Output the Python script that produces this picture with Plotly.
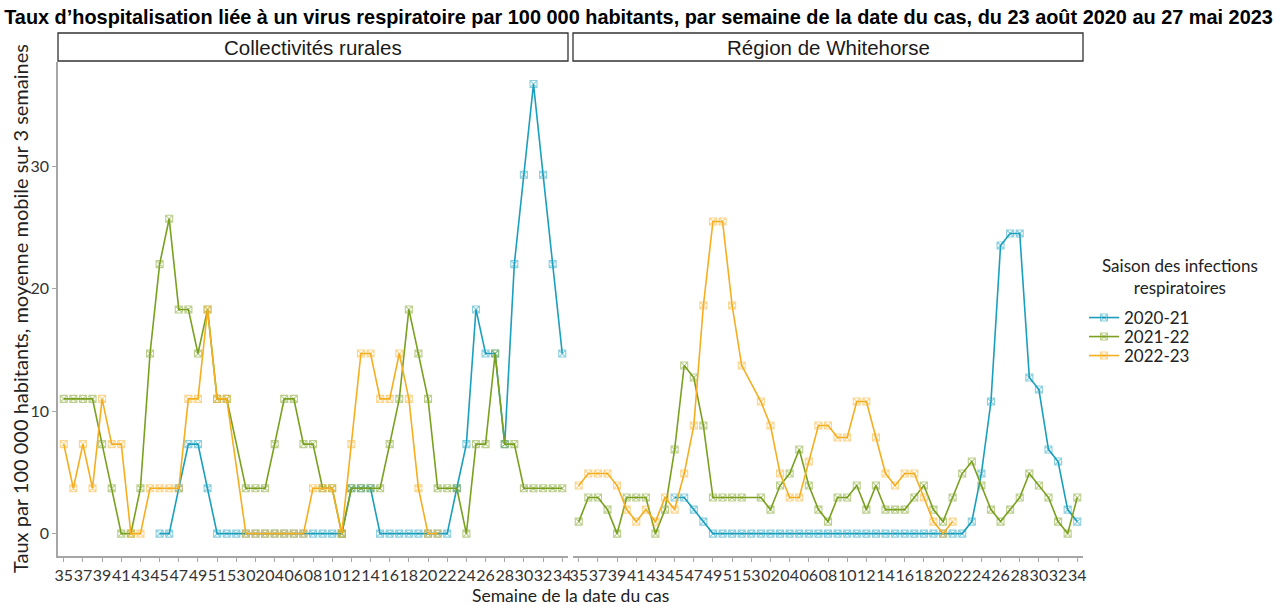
import plotly.graph_objects as go

# ---------------- data ----------------
weeks = ["35", "36", "37", "38", "39", "40", "41", "42", "43", "44", "45", "46", "47", "48",
         "49", "50", "51", "52", "53", "01", "02", "03", "04", "05", "06", "07", "08", "09",
         "10", "11", "12", "13", "14", "15", "16", "17", "18", "19", "20", "21", "22", "23",
         "24", "25", "26", "27", "28", "29", "30", "31", "32", "33", "34"]
tick_weeks = weeks[::2]

seasons = ["2020-21", "2021-22", "2022-23"]
colors = {"2020-21": "#1A9FBE", "2021-22": "#79A01E", "2022-23": "#F5AE1F"}
panels = ["Collectivités rurales", "Région de Whitehorse"]

N = None
# Collectivités rurales
rural_2020_21 = [N, N, N, N, N, N, N, N, N, N,
                 0, 0, 3.7, 7.3, 7.3, 3.7, 0, 0, 0, 0, 0, 0, 0, 0, 0, 0, 0, 0, 0, 0,
                 3.7, 3.7, 3.7, 0, 0, 0, 0, 0, 0, 0, 0,
                 3.7, 7.3, 18.3, 14.7, 14.7, 7.3, 22, 29.3, 36.7, 29.3, 22, 14.7]
rural_2021_22 = [11, 11, 11, 11, 7.3, 3.7, 0, 0, 3.7, 14.7, 22, 25.7, 18.3, 18.3, 14.7, 18.3,
                 11, 11, N, 3.7, 3.7, 3.7, 7.3, 11, 11, 7.3, 7.3, 3.7, 3.7, 0,
                 3.7, 3.7, 3.7, 3.7, 7.3, 11, 18.3, 14.7, 11, 3.7, 3.7, 3.7, 0,
                 7.3, 7.3, 14.7, 7.3, 7.3, 3.7, 3.7, 3.7, 3.7, 3.7]
rural_2022_23 = [7.3, 3.7, 7.3, 3.7, 11, 7.3, 7.3, 0, 0, 3.7, 3.7, 3.7, 3.7, 11, 11, 18.3,
                 11, 11, N, 0, 0, 0, 0, 0, 0, 0, 3.7, 3.7, 3.7, 0,
                 7.3, 14.7, 14.7, 11, 11, 14.7, 11, 3.7, 0, 0,
                 N, N, N, N, N, N, N, N, N, N, N, N, N]
# Région de Whitehorse
whse_2020_21 = [N, N, N, N, N, N, N, N, N, N,
                2.94, 2.94, 1.96, 0.98, 0, 0, 0, 0, 0, 0, 0, 0, 0, 0, 0, 0, 0, 0, 0, 0,
                0, 0, 0, 0, 0, 0, 0, 0, 0, 0, 0,
                0.98, 4.9, 10.78, 23.52, 24.5, 24.5, 12.74, 11.76, 6.86, 5.88, 1.96, 0.98]
whse_2021_22 = [0.98, 2.94, 2.94, 1.96, 0, 2.94, 2.94, 2.94, 0, 1.96, 6.86, 13.72, 12.74,
                8.82, 2.94, 2.94, 2.94, 2.94, N, 2.94, 1.96, 3.92, 4.9, 6.86, 3.92, 1.96,
                0.98, 2.94, 2.94, 3.92, 1.96, 3.92, 1.96, 1.96, 1.96, 2.94, 3.92, 1.96,
                0.98, 2.94, 4.9, 5.88, 3.92, 1.96, 0.98, 1.96, 2.94, 4.9, 3.92, 2.94,
                0.98, 0, 2.94]
whse_2022_23 = [3.92, 4.9, 4.9, 4.9, 3.92, 1.96, 0.98, 1.96, 0.98, 2.94, 1.96, 4.9, 8.82,
                18.62, 25.48, 25.48, 18.62, 13.72, N, 10.78, 8.82, 4.9, 2.94, 2.94, 5.88,
                8.82, 8.82, 7.84, 7.84, 10.78, 10.78, 7.84, 4.9, 3.92, 4.9, 4.9, 2.94,
                0.98, 0, 0.98,
                N, N, N, N, N, N, N, N, N, N, N, N, N]

panel_data = {
    "Collectivités rurales": {"2020-21": rural_2020_21, "2021-22": rural_2021_22, "2022-23": rural_2022_23},
    "Région de Whitehorse": {"2020-21": whse_2020_21, "2021-22": whse_2021_22, "2022-23": whse_2022_23},
}

title_text = ("Taux d’hospitalisation liée à un virus respiratoire par 100 000 habitants, "
              "par semaine de la date du cas, du 23 août 2020 au 27 mai 2023")
x_title = "Semaine de la date du cas"
y_title = "Taux par 100 000 habitants, moyenne mobile sur 3 semaines"
legend_title = "Saison des infections<br>respiratoires"

# ---------------- layout geometry (pixels) ----------------
W, H = 1277, 605
ML, MR, MT, MB = 58, 194, 62, 49
plot_w = W - ML - MR
plot_h = H - MT - MB
panel_gap = 5
panel_w = (plot_w - panel_gap) / 2
dom1 = [0, panel_w / plot_w]
dom2 = [(panel_w + panel_gap) / plot_w, 1]

def px_x(px):
    return (px - ML) / plot_w

def px_y(py):
    return (H - MB - py) / plot_h

def hex_rgba(h, a):
    h = h.lstrip("#")
    return f"rgba({int(h[0:2],16)},{int(h[2:4],16)},{int(h[4:6],16)},{a})"

font_main = "Lato, 'Open Sans', sans-serif"
legend_names = ["legend", "legend2", "legend3"]
legend_y_px = [318, 337, 356]

fig = go.Figure()
for pi, panel in enumerate(panels):
    xa = "x" if pi == 0 else "x2"
    ya = "y" if pi == 0 else "y2"
    for si, s in enumerate(seasons):
        fig.add_trace(go.Scatter(
            x=weeks, y=panel_data[panel][s], xaxis=xa, yaxis=ya,
            mode="lines+markers", name=s, legendgroup=s, showlegend=(pi == 0),
            legend=legend_names[si],
            connectgaps=True,
            line=dict(color=colors[s], width=1.6),
            marker=dict(symbol="square-x-open", size=7, color=hex_rgba(colors[s], 0.5),
                        line=dict(width=1.1)),
        ))

axis_common = dict(
    type="category", categoryorder="array", categoryarray=weeks,
    tickmode="array", tickvals=tick_weeks, ticktext=tick_weeks,
    range=[-0.6, len(weeks) - 0.4],
    showgrid=False, zeroline=False, automargin=False,
    showline=True, linecolor="#A6A6A6", linewidth=1.5,
    ticks="outside", ticklen=4, tickcolor="#A6A6A6", tickwidth=1,
    tickfont=dict(family=font_main, size=16, color="#333333"),
    tickangle=0,
)
yrange = [-1.83, 38.5]

legend_common = dict(xanchor="left", yanchor="middle",
                     font=dict(family=font_main, size=17, color="#222222"),
                     bgcolor="rgba(0,0,0,0)", itemwidth=30, borderwidth=0)
legends = {}
for i, ln in enumerate(legend_names):
    legends[ln] = dict(x=px_x(1084), y=px_y(legend_y_px[i]), **legend_common)

fig.update_layout(
    width=W, height=H,
    margin=dict(l=ML, r=MR, t=MT, b=MB, autoexpand=False),
    paper_bgcolor="white", plot_bgcolor="white",
    xaxis=dict(domain=dom1, anchor="y", **axis_common),
    xaxis2=dict(domain=dom2, anchor="y2", **axis_common),
    yaxis=dict(range=yrange, tickvals=[0, 10, 20, 30], showgrid=False, zeroline=False,
               automargin=False,
               showline=True, linecolor="#A6A6A6", linewidth=1.5,
               ticks="outside", ticklen=4, tickcolor="#A6A6A6",
               tickfont=dict(family=font_main, size=16, color="#333333")),
    yaxis2=dict(range=yrange, anchor="x2", matches="y", showticklabels=False, showgrid=False,
                zeroline=False, showline=False, ticks="", automargin=False),
    title=dict(text=title_text, x=0.5, xref="container", xanchor="center",
               y=1 - 17 / H, yanchor="middle", yref="container",
               font=dict(family="'Liberation Sans', Arial, sans-serif", size=19.9,
                         color="black", weight="bold")),
    showlegend=True,
    **legends,
)

# legend title
fig.add_annotation(text=legend_title, xref="paper", yref="paper", x=px_x(1180), y=px_y(276),
                   xanchor="center", yanchor="middle", align="center", showarrow=False,
                   font=dict(family=font_main, size=17, color="#222222"))

# axis titles
fig.add_annotation(text=x_title, xref="paper", yref="paper", x=0.5, y=px_y(595),
                   xanchor="center", yanchor="middle", showarrow=False,
                   font=dict(family=font_main, size=17.5, color="#222222"))
fig.add_annotation(text=y_title, xref="paper", yref="paper", x=px_x(20), y=px_y(309),
                   xanchor="center", yanchor="middle", textangle=-90, showarrow=False,
                   font=dict(family=font_main, size=20, color="#222222"))

# facet strips
strip_y0 = px_y(61)
strip_y1 = px_y(33)
for panel, dom in zip(panels, [dom1, dom2]):
    fig.add_shape(type="rect", xref="paper", yref="paper", x0=dom[0], x1=dom[1],
                  y0=strip_y0, y1=strip_y1, line=dict(color="#333333", width=1.3),
                  fillcolor="white", layer="below")
    fig.add_annotation(text=panel, xref="paper", yref="paper", x=(dom[0] + dom[1]) / 2,
                       y=(strip_y0 + strip_y1) / 2, xanchor="center", yanchor="middle",
                       showarrow=False,
                       font=dict(family="'Liberation Sans', Arial, sans-serif", size=20.5,
                                 color="#1a1a1a"))

fig.write_html(
    "out.html",
    config={"displayModeBar": False},
    post_script="document.body.style.margin='0';document.body.style.overflow='hidden';",
)
